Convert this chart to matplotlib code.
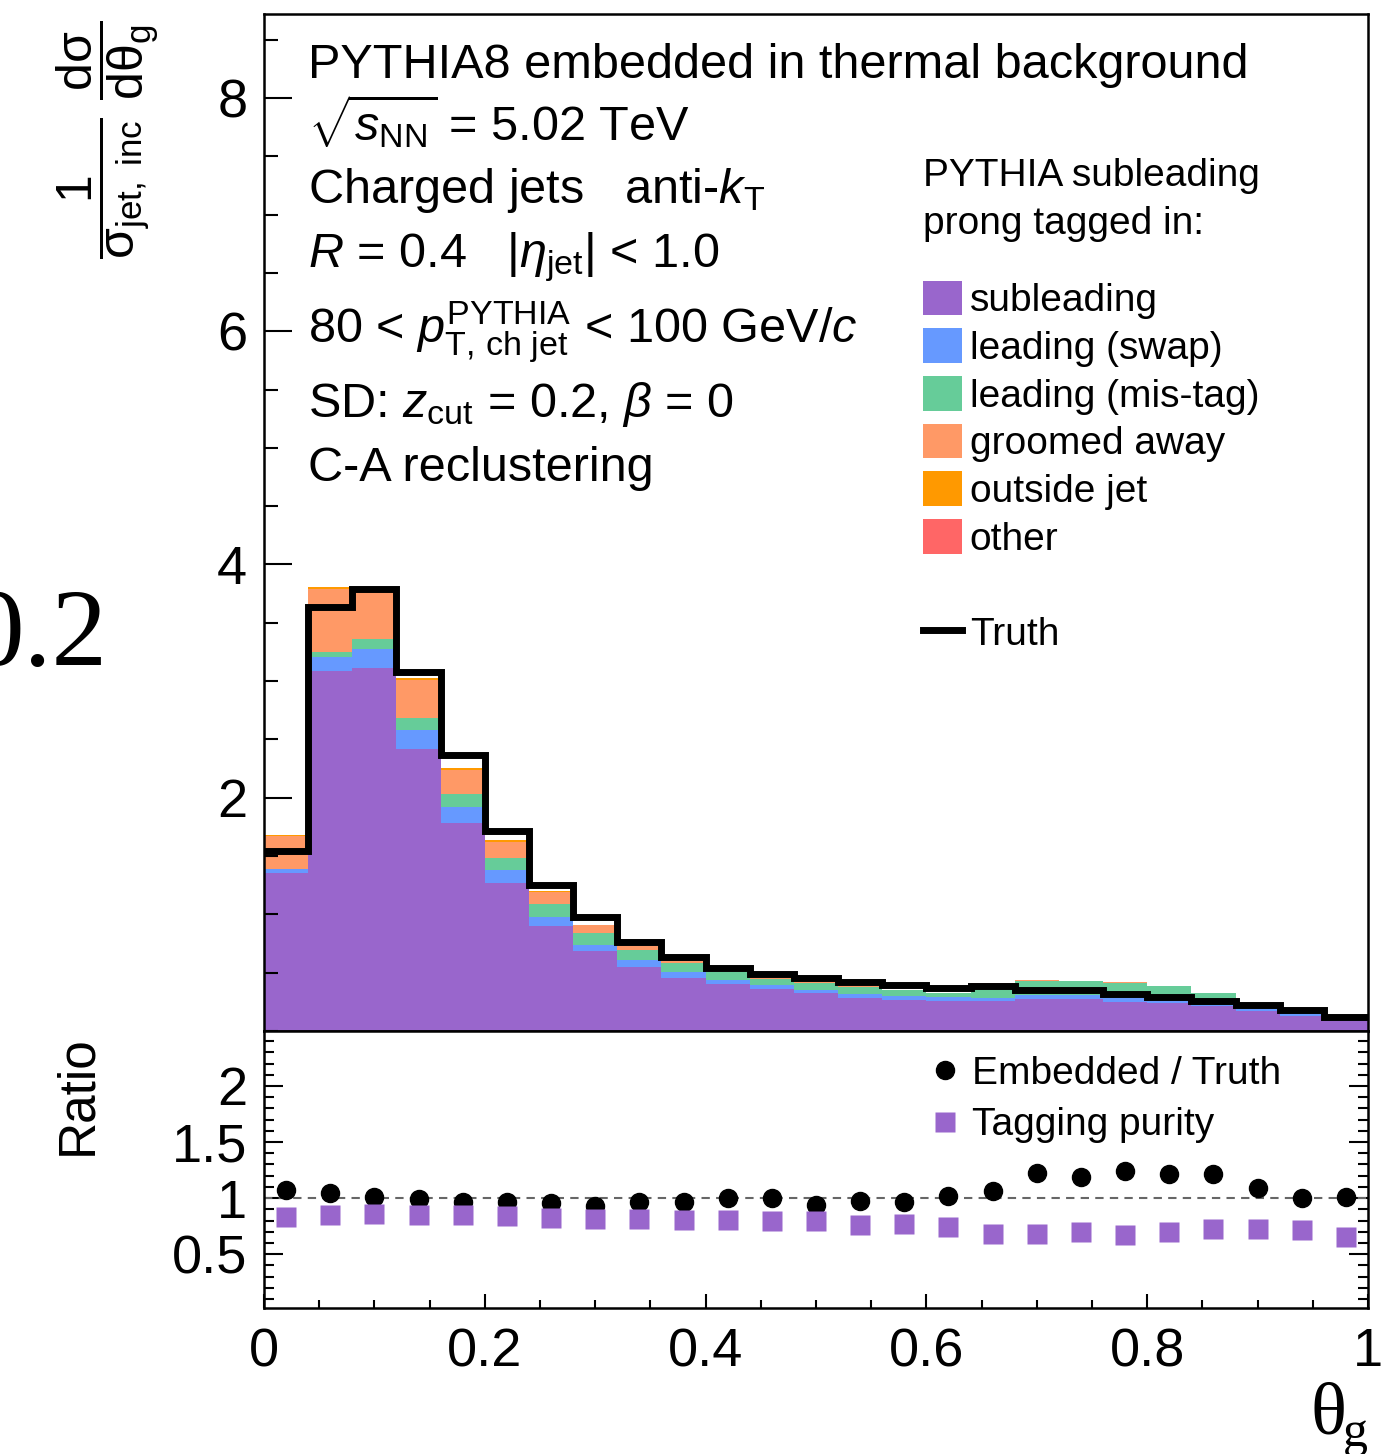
import numpy as np
import matplotlib.pyplot as plt
from matplotlib.patches import Patch
from matplotlib.lines import Line2D
from matplotlib.ticker import MultipleLocator, FixedLocator, FormatStrFormatter

plt.rcParams['font.family'] = ['Liberation Sans', 'DejaVu Sans']
plt.rcParams['mathtext.fontset'] = 'custom'
plt.rcParams['mathtext.rm'] = 'Liberation Sans'
plt.rcParams['mathtext.it'] = 'Liberation Sans:italic'
plt.rcParams['mathtext.bf'] = 'Liberation Sans:bold'

# theta_g binning (25 bins of 0.04)
edges = np.linspace(0, 1, 26)
centers = 0.5 * (edges[:-1] + edges[1:])

# stacked contributions (embedded, tagged category)
subleading = [1.351, 3.086, 3.114, 2.414, 1.780, 1.266, 0.897, 0.682, 0.551, 0.457,
              0.400, 0.357, 0.323, 0.285, 0.268, 0.257, 0.257, 0.277, 0.271, 0.251,
              0.243, 0.214, 0.171, 0.129, 0.086]
swap = [0.035, 0.125, 0.163, 0.169, 0.140, 0.117, 0.083, 0.058, 0.060, 0.051,
        0.040, 0.037, 0.028, 0.035, 0.032, 0.034, 0.029, 0.031, 0.037, 0.034,
        0.028, 0.006, 0.018, 0.014, 0.010]
mistag = [0.005, 0.040, 0.080, 0.103, 0.114, 0.103, 0.111, 0.100, 0.080, 0.077,
          0.063, 0.054, 0.063, 0.060, 0.048, 0.037, 0.114, 0.120, 0.120, 0.129,
          0.112, 0.103, 0.051, 0.032, 0.027]
groomed = [0.280, 0.535, 0.413, 0.320, 0.203, 0.137, 0.100, 0.068, 0.037, 0.012,
           0.004, 0.003, 0.003, 0.003, 0.003, 0.000, 0.000, 0.008, 0.002, 0.002,
           0.002, 0.000, 0.000, 0.000, 0.000]
outside = [0.009, 0.020, 0.010, 0.017, 0.014, 0.011, 0.009, 0.005, 0.004, 0.002,
           0.001, 0.001, 0.001, 0.001, 0.001, 0.000, 0.000, 0.004, 0.002, 0.002,
           0.002, 0.000, 0.000, 0.000, 0.000]
other = [0.000, 0.000, 0.000, 0.000, 0.000, 0.005, 0.000, 0.000, 0.000, 0.000,
         0.000, 0.000, 0.000, 0.000, 0.000, 0.000, 0.010, 0.000, 0.000, 0.000,
         0.000, 0.000, 0.002, 0.000, 0.000]
truth = [1.543, 3.634, 3.794, 3.080, 2.366, 1.714, 1.251, 0.980, 0.763, 0.634,
         0.537, 0.485, 0.451, 0.420, 0.394, 0.371, 0.384, 0.348, 0.348, 0.314,
         0.291, 0.257, 0.220, 0.177, 0.123]

# ratio panel
emb_over_truth = [1.072, 1.045, 1.006, 0.991, 0.961, 0.961, 0.955, 0.931, 0.961, 0.967,
                  0.997, 0.997, 0.937, 0.973, 0.961, 1.021, 1.060, 1.225, 1.189, 1.246,
                  1.219, 1.219, 1.087, 1.000, 1.009]
purity = [0.832, 0.850, 0.856, 0.847, 0.847, 0.838, 0.820, 0.811, 0.811, 0.805,
          0.802, 0.793, 0.793, 0.757, 0.766, 0.740, 0.677, 0.677, 0.695, 0.668,
          0.695, 0.722, 0.722, 0.713, 0.650]

components = [subleading, swap, mistag, groomed, outside, other]
labels = ['subleading', 'leading (swap)', 'leading (mis-tag)', 'groomed away',
          'outside jet', 'other']
colors = ['#9966CC', '#6699FF', '#66CC99', '#FF9966', '#FF9900', '#FF6666']

W, H = 1388, 1454
fig = plt.figure(figsize=(W / 100, H / 100), dpi=100)
ax = fig.add_axes([264 / W, 1 - 1031 / H, 1104 / W, 1017 / H])
axr = fig.add_axes([264 / W, 1 - 1308 / H, 1104 / W, 277 / H])

bottom = np.zeros(len(centers))
for vals, col in zip(components, colors):
    top = bottom + np.array(vals)
    ax.stairs(top, edges, baseline=bottom, fill=True, color=col, lw=0)
    bottom = top
ax.stairs(truth, edges, baseline=None, color='k', lw=5, joinstyle='miter', zorder=3)

ax.set_xlim(0, 1)
ax.set_ylim(0, 8.72)
ax.yaxis.set_major_locator(FixedLocator([2, 4, 6, 8]))
ax.yaxis.set_minor_locator(MultipleLocator(0.5))
ax.tick_params(axis='y', which='major', direction='in', length=20, width=1.5,
               labelsize=39, pad=12, right=False)
ax.tick_params(axis='y', which='minor', direction='in', length=10, width=1.5, right=False)
ax.tick_params(axis='x', which='both', bottom=False, labelbottom=False)
for s in ax.spines.values():
    s.set_linewidth(1.8)

handles = [Patch(facecolor=c, edgecolor='none') for c in colors]
handles += [Patch(visible=False), Line2D([], [], color='k', lw=5)]
leg = ax.legend(handles, labels + [' ', 'Truth'],
                title='PYTHIA subleading\nprong tagged in:', loc='upper left',
                bbox_to_anchor=(0.597, 0.858), frameon=False, fontsize=28,
                title_fontsize=28, alignment='left', handlelength=1.0,
                handleheight=1.0, handletextpad=0.2, labelspacing=0.23,
                borderpad=0, borderaxespad=0)
leg.get_title().set_linespacing(1.4)
leg._legend_box.sep = 28

txt = dict(fontsize=35, va='baseline', ha='left')
x0 = 308 / W
fig.text(x0, 1 - 78 / H, 'PYTHIA8 embedded in thermal background', **txt)
fig.text(x0, 1 - 140 / H, r'$\sqrt{s_{\rm NN}}$ = 5.02 TeV', **txt)
fig.text(x0, 1 - 203 / H, r'Charged jets   anti-$k_{\rm T}$', **txt)
fig.text(x0, 1 - 267 / H, r'$R$ = 0.4   |$\eta_{\rm jet}$| < 1.0', **txt)
fig.text(x0, 1 - 343 / H, r'80 < $p_{\rm T,\,ch\ jet}^{\rm PYTHIA}$ < 100 GeV/$c$', **txt)
fig.text(x0, 1 - 417 / H, r'SD: $z_{\rm cut}$ = 0.2, $\beta$ = 0', **txt)
fig.text(x0, 1 - 481 / H, 'C-A reclustering', **txt)

fig.text(108 / W, 1 - 140 / H,
         r'$\dfrac{1}{{\rm \sigma}_{\rm jet,\ inc}}\ \dfrac{{\rm d\sigma}}{{\rm d\theta}_{\rm g}}$',
         rotation=90, ha='center', va='center', fontsize=36)

# cropped label from neighbouring panel
fig.text(108 / W, 1 - 665 / H, '0.2', family='Liberation Serif', fontsize=80,
         ha='right', va='baseline')

# ratio panel
axr.axhline(1, color='#666666', ls='--', lw=1.5, dashes=(4, 3))
axr.plot(centers, emb_over_truth, 'o', color='k', ms=13, label='Embedded / Truth')
axr.plot(centers, purity, 's', color='#9966CC', ms=14, mec='none', label='Tagging purity')
axr.set_xlim(0, 1)
axr.set_ylim(0.02, 2.49)
axr.xaxis.set_major_locator(MultipleLocator(0.2))
axr.xaxis.set_minor_locator(MultipleLocator(0.05))
axr.xaxis.set_major_formatter(FormatStrFormatter('%g'))
axr.yaxis.set_major_locator(FixedLocator([0.5, 1, 1.5, 2]))
axr.yaxis.set_minor_locator(MultipleLocator(0.1))
axr.yaxis.set_major_formatter(FormatStrFormatter('%g'))
axr.tick_params(axis='y', which='major', direction='in', length=14, width=1.5,
                labelsize=39, pad=12, right=True)
axr.tick_params(axis='y', which='minor', direction='in', length=7, width=1.5, right=True)
axr.tick_params(axis='x', which='major', direction='in', length=10, width=1.5,
                labelsize=39, pad=14, top=False)
axr.tick_params(axis='x', which='minor', direction='in', length=6, width=1.5, top=False)
for s in axr.spines.values():
    s.set_linewidth(1.8)
axr.legend(loc='upper left', bbox_to_anchor=(0.603, 0.91), frameon=False, fontsize=28,
           handlelength=0.8, handletextpad=0.3, labelspacing=0.4, borderpad=0,
           borderaxespad=0)

fig.text(78 / W, 1 - 1095 / H, 'Ratio', rotation=90, ha='center', va='center', fontsize=37)
fig.text(1310 / W, 1 - 1434 / H, 'θ', family='Liberation Serif', fontsize=54,
         ha='left', va='baseline')
fig.text(1343 / W, 1 - 1446 / H, 'g', family='Liberation Serif', fontsize=36,
         ha='left', va='baseline')

fig.savefig('out.png', dpi=100)
